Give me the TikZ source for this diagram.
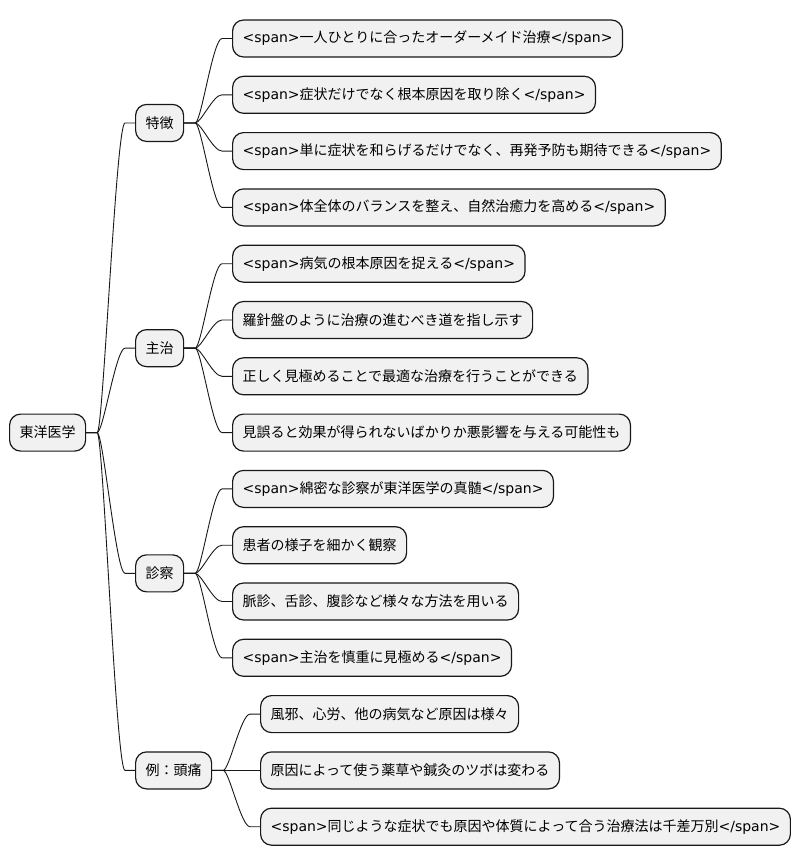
\documentclass[tikz,border=0pt]{standalone}
\usepackage{fontspec}
\setmainfont{Noto Sans CJK JP}
\newfontfamily\lat{DejaVu Sans}

\definecolor{boxfill}{HTML}{F1F1F1}
\definecolor{boxline}{HTML}{181818}

\tikzset{
  topic/.style={draw=boxline, fill=boxfill, line width=1.2pt, rounded corners=11pt,
    inner xsep=10pt, inner ysep=0pt, minimum height=37pt, anchor=west,
    font=\fontsize{14}{16}\selectfont},
  branch/.style={draw=boxline, line width=0.9pt},
}
\newcommand{\spo}{{\lat<span>}}
\newcommand{\spc}{{\lat</span>}}
\newcommand{\link}[2]{\draw[branch] (#1.east) -- ++(11,0)
  to[out=0,in=180,out distance=6pt,in distance=9pt] ([xshift=-10pt]#2.west) -- (#2.west);}

\begin{document}
\begin{tikzpicture}[x=1pt,y=-1pt]
\useasboundingbox (0,0) rectangle (803,865);

% root and main branches
\node[topic] (root) at (9,432.6) {東洋医学};
\node[topic] (tokucho) at (135,122.95) {特徴};
\node[topic] (shuji) at (135,348.15) {主治};
\node[topic] (shinsatsu) at (135,573.35) {診察};
\node[topic] (rei) at (135,770.4) {例：頭痛};

% 特徴
\node[topic] (t1) at (232,38.5) {\spo 一人ひとりに合ったオーダーメイド治療\spc};
\node[topic] (t2) at (232,94.8) {\spo 症状だけでなく根本原因を取り除く\spc};
\node[topic] (t3) at (232,151.1) {\spo 単に症状を和らげるだけでなく、再発予防も期待できる\spc};
\node[topic] (t4) at (232,207.4) {\spo 体全体のバランスを整え、自然治癒力を高める\spc};

% 主治
\node[topic] (s1) at (232,263.7) {\spo 病気の根本原因を捉える\spc};
\node[topic] (s2) at (232,320) {羅針盤のように治療の進むべき道を指し示す};
\node[topic] (s3) at (232,376.3) {正しく見極めることで最適な治療を行うことができる};
\node[topic] (s4) at (232,432.6) {見誤ると効果が得られないばかりか悪影響を与える可能性も};

% 診察
\node[topic] (k1) at (232,488.9) {\spo 綿密な診察が東洋医学の真髄\spc};
\node[topic] (k2) at (232,545.2) {患者の様子を細かく観察};
\node[topic] (k3) at (232,601.5) {脈診、舌診、腹診など様々な方法を用いる};
\node[topic] (k4) at (232,657.8) {\spo 主治を慎重に見極める\spc};

% 例：頭痛
\node[topic] (r1) at (260,714.1) {風邪、心労、他の病気など原因は様々};
\node[topic] (r2) at (260,770.4) {原因によって使う薬草や鍼灸のツボは変わる};
\node[topic] (r3) at (260,826.7) {\spo 同じような症状でも原因や体質によって合う治療法は千差万別\spc};

\foreach \b in {tokucho,shuji,shinsatsu,rei} {\link{root}{\b}}
\foreach \l in {t1,t2,t3,t4} {\link{tokucho}{\l}}
\foreach \l in {s1,s2,s3,s4} {\link{shuji}{\l}}
\foreach \l in {k1,k2,k3,k4} {\link{shinsatsu}{\l}}
\foreach \l in {r1,r2,r3} {\link{rei}{\l}}

\end{tikzpicture}
\end{document}
